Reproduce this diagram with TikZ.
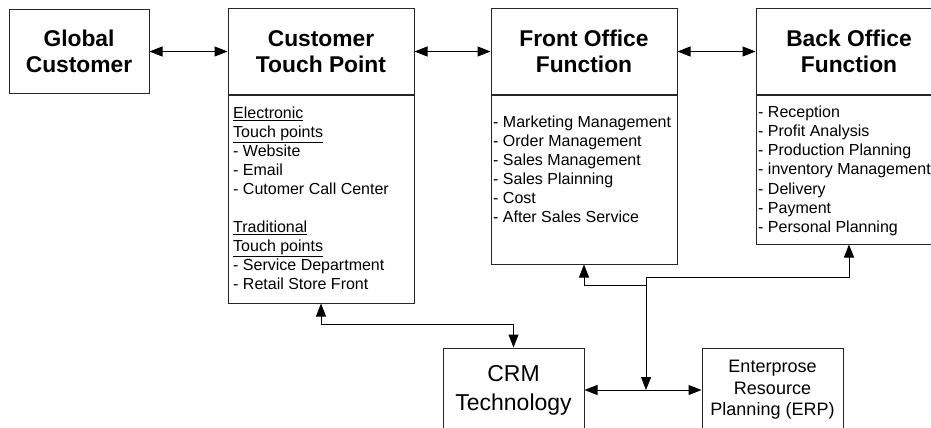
\documentclass[tikz,border=0pt]{standalone}
\usepackage{fontspec}
\setmainfont{Liberation Sans}
\usetikzlibrary{arrows.meta}
\begin{document}
\begin{tikzpicture}[x=1pt,y=-1pt,
  >={Triangle[length=13pt,width=10pt]},
  box/.style={draw=black!85, line width=1pt, inner sep=0pt, align=center},
  head/.style={box, minimum width=186pt, minimum height=85pt,
    font=\fontsize{22.8}{26.5}\selectfont\bfseries},
  bodybox/.style={box, minimum width=186pt, anchor=north},
  listtext/.style={inner sep=0pt, anchor=north west, align=left,
    font=\fontsize{16}{19}\selectfont},
  link/.style={line width=1pt, draw=black}]
\useasboundingbox (0,0) rectangle (931,428);
\clip (0,0) rectangle (931,428);

% top row: headers
\node[head, minimum width=140pt, minimum height=84pt] (gc) at (79,51.5) {Global\\Customer};
\node[head] (ctp) at (321,51.5) {Customer\\Touch Point};
\node[head] (fo) at (584,51.5) {Front Office\\Function};
\node[head] (bo) at (849,51.5) {Back Office\\Function};

% list compartments
\node[bodybox, minimum height=208pt] (ctpb) at (ctp.south) {};
\node[bodybox, minimum height=169pt] (fob) at (fo.south) {};
\node[bodybox, minimum height=149pt] (bob) at (bo.south) {};

\node[listtext] (ctpt) at (233,106.5) {\underline{Electronic}\\\underline{Touch points}\\- Website\\- Email\\- Cutomer Call Center\\[19pt]\underline{Traditional}\\\underline{Touch points}\\- Service Department\\- Retail Store Front};
\node[listtext] (fot) at (493,115.5) {- Marketing Management\\- Order Management\\- Sales Management\\- Sales Plainning\\- Cost\\- After Sales Service};
\node[listtext, font=\fontsize{16}{19.2}\selectfont] (bot) at (758,105.5) {- Reception\\- Profit Analysis\\- Production Planning\\- inventory Management\\- Delivery\\- Payment\\- Personal Planning};

% bottom row
\node[box, minimum width=141pt, minimum height=84pt, font=\fontsize{23}{29}\selectfont] (crm) at (513.5,390) {CRM\\Technology};
\node[box, minimum width=141pt, minimum height=84pt, font=\fontsize{18}{21.5}\selectfont] (erp) at (772.5,390) {Enterprose\\Resource\\Planning (ERP)};

% connectors
\draw[link,<->] (gc.east) -- (ctp.west);
\draw[link,<->] (ctp.east) -- (fo.west);
\draw[link,<->] (fo.east) -- (bo.west);
\draw[link,<->] (ctpb.south) -- ++(0,21) -| (crm.north);
\draw[link,<->] (crm.east) -- (erp.west);

\coordinate (bus) at (646,277);
\coordinate (fotap) at (646,285);
\draw[link,->] (bus) -- (bus |- crm.east);
\draw[link,->] (bus) -| (bob.south);
\draw[link,->] (fotap) -| (fob.south);
\end{tikzpicture}
\end{document}
